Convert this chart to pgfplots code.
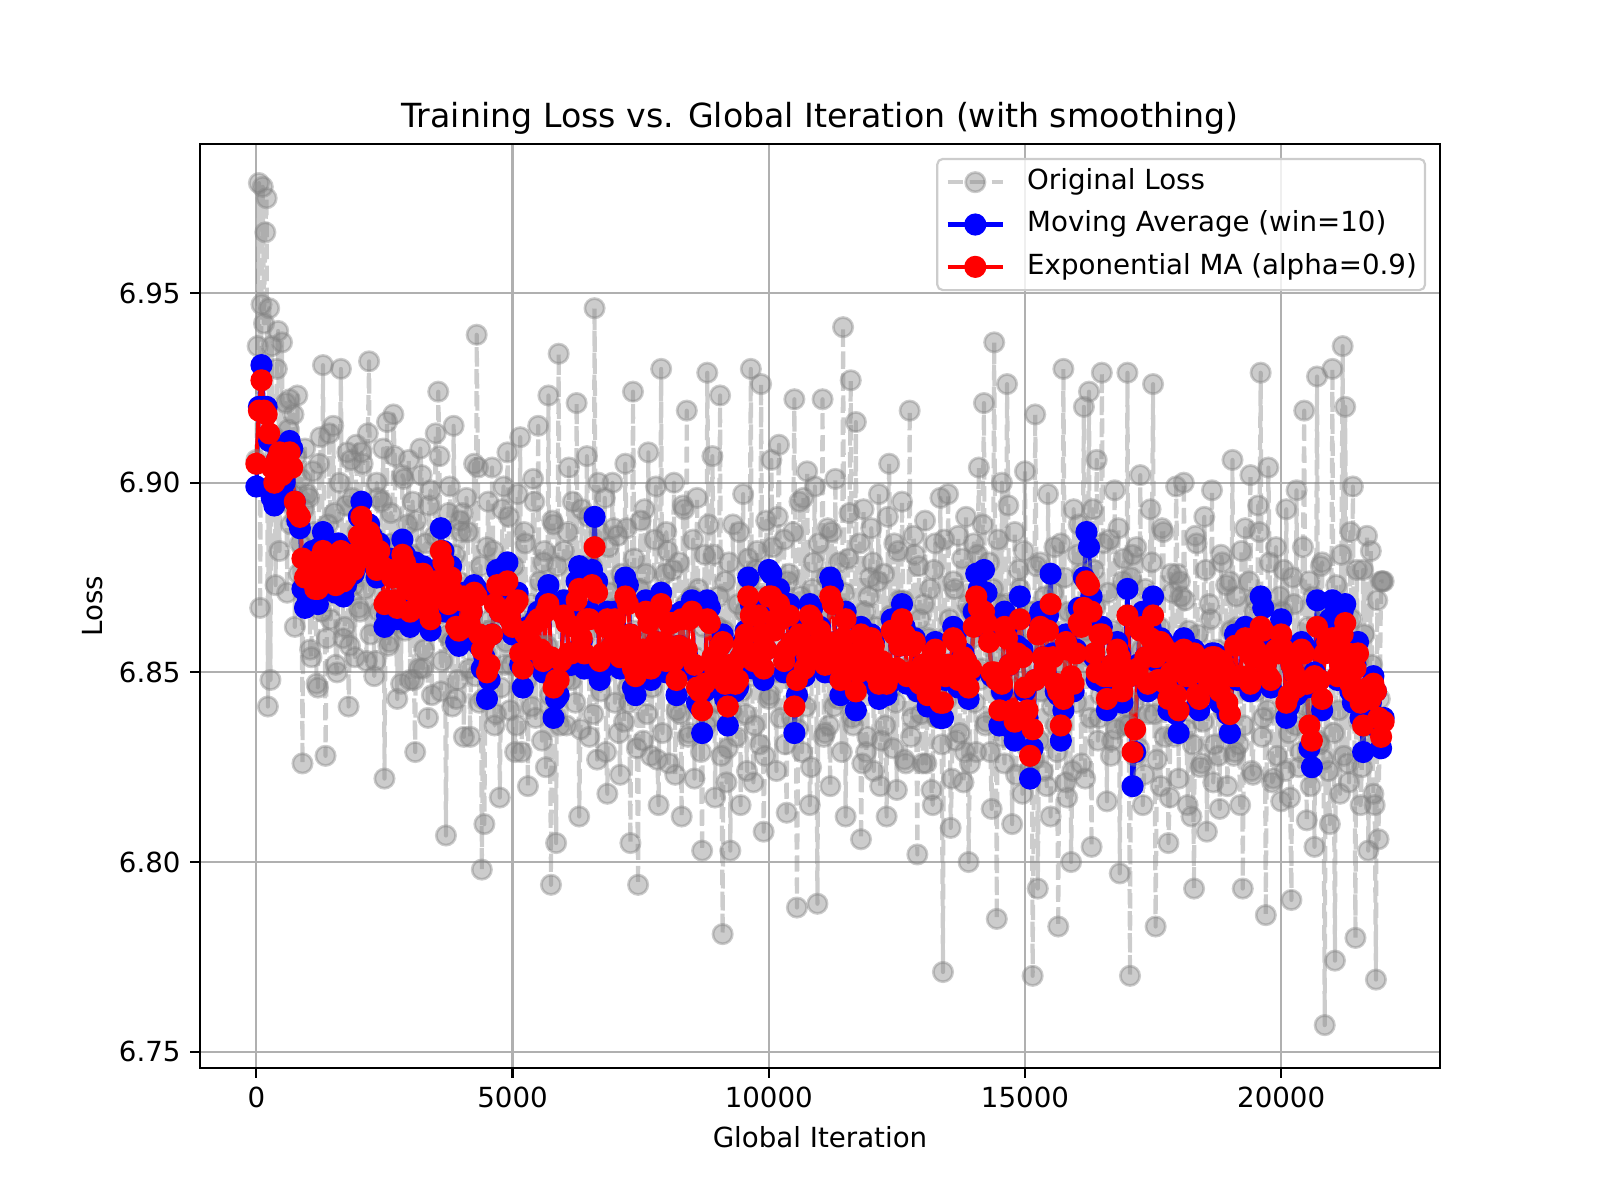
\documentclass[border=0pt]{standalone}
\usepackage{fontspec}
\setmainfont{DejaVu Sans}
\usepackage{pgfplots}
\pgfplotsset{compat=1.18}
\definecolor{mplgray}{RGB}{128,128,128}
\definecolor{gridgray}{RGB}{176,176,176}
\definecolor{legframe}{RGB}{204,204,204}
\pgfplotsset{legend image code/.code={\draw[mark repeat=2,mark phase=2,#1] plot coordinates {(0pt,0pt) (10pt,0pt) (20pt,0pt)};}}
\begin{document}
\begin{tikzpicture}
\path[use as bounding box] (0,0) rectangle (8in,6in);
\begin{axis}[
  at={(1in,0.66in)}, anchor=south west,
  scale only axis, width=6.2in, height=4.62in,
  xmin=-1100, xmax=23100, ymin=6.7457, ymax=6.9893,
  xtick={0,5000,10000,15000,20000},
  ytick={6.75,6.8,6.85,6.9,6.95},
  scaled x ticks=false, scaled y ticks=false,
  xticklabel style={/pgf/number format/1000 sep={}},
  yticklabel style={/pgf/number format/.cd, fixed, fixed zerofill, precision=2},
  /pgf/number format/assume math mode=true,
  tick label style={font=\fontsize{10}{12}\selectfont},
  tick align=outside, major tick length=3.5pt,
  xtick pos=lower, ytick pos=left,
  tick style={black, line width=0.8pt},
  axis line style={line width=0.8pt},
  grid=major, major grid style={gridgray, line width=0.8pt},
  title={Training Loss vs. Global Iteration (with smoothing)},
  title style={font=\fontsize{12}{14}\selectfont, at={(0.5,1)}, anchor=base, yshift=0pt},
  xlabel={Global Iteration}, ylabel={Loss},
  label style={font=\fontsize{10}{12}\selectfont},
  xlabel style={at={(axis description cs:0.5,-0.0857)}, anchor=base},
  ylabel style={at={(axis description cs:-0.0784,0.5)}, anchor=base},
  legend style={at={(1,1)}, anchor=north east, xshift=-5pt, yshift=-5pt,
    draw=legframe, fill=white, fill opacity=0.8, draw opacity=1, text opacity=1,
    rounded corners=2pt, line width=0.8pt, font=\fontsize{10}{12}\selectfont,
    inner xsep=3pt, inner ysep=3.4pt, row sep=5.3pt, column sep=8pt,
    nodes={text height=7.6pt, text depth=2.4pt, inner sep=0pt}},
  legend cell align=left,
]
\addplot[color=mplgray, opacity=0.4, line width=1.5pt, line join=round,
  dash pattern=on 5.55pt off 2.4pt, mark=*, mark size=3.5pt,
  mark options={solid, fill=mplgray, line width=1pt}]
  table[row sep=\\, header=false, x expr=\coordindex*25, y index=0] {
6.906\\6.936\\6.979\\6.867\\6.947\\6.978\\6.942\\6.966\\6.975\\6.841\\6.946\\6.848\\6.936\\6.899\\6.912\\6.873\\6.930\\6.940\\6.882\\6.909\\6.937\\6.895\\6.903\\6.921\\6.871\\6.914\\6.922\\6.889\\6.897\\6.918\\6.862\\6.907\\6.923\\6.876\\6.884\\6.901\\6.826\\6.893\\6.909\\6.868\\
6.897\\6.896\\6.856\\6.854\\6.903\\6.887\\6.871\\6.847\\6.846\\6.905\\6.912\\6.866\\6.931\\6.881\\6.828\\6.859\\6.889\\6.913\\6.864\\6.871\\6.915\\6.892\\6.852\\6.850\\6.880\\6.900\\6.930\\6.875\\6.859\\6.862\\6.894\\6.908\\6.841\\6.857\\6.906\\6.896\\6.873\\6.854\\6.910\\6.887\\
6.867\\6.866\\6.908\\6.905\\6.889\\6.872\\6.853\\6.913\\6.932\\6.860\\6.877\\6.886\\6.849\\6.853\\6.900\\6.896\\6.866\\6.878\\6.895\\6.909\\6.822\\6.869\\6.916\\6.857\\6.858\\6.892\\6.884\\6.918\\6.907\\6.863\\6.843\\6.884\\6.870\\6.847\\6.902\\6.901\\6.861\\6.875\\6.889\\6.906\\
6.848\\6.881\\6.895\\6.848\\6.829\\6.890\\6.877\\6.851\\6.909\\6.902\\6.851\\6.856\\6.884\\6.869\\6.838\\6.894\\6.898\\6.844\\6.866\\6.886\\6.913\\6.865\\6.924\\6.907\\6.845\\6.853\\6.880\\6.875\\6.807\\6.860\\6.892\\6.899\\6.858\\6.841\\6.915\\6.881\\6.843\\6.848\\6.874\\6.890\\
6.887\\6.892\\6.833\\6.861\\6.896\\6.887\\6.851\\6.833\\6.872\\6.870\\6.905\\6.849\\6.939\\6.904\\6.842\\6.878\\6.798\\6.843\\6.810\\6.855\\6.883\\6.895\\6.861\\6.864\\6.904\\6.882\\6.836\\6.839\\6.877\\6.872\\6.817\\6.846\\6.893\\6.899\\6.852\\6.858\\6.908\\6.891\\6.840\\6.852\\
6.871\\6.878\\6.829\\6.836\\6.897\\6.869\\6.912\\6.829\\6.846\\6.887\\6.884\\6.848\\6.820\\6.863\\6.868\\6.841\\6.901\\6.895\\6.838\\6.853\\6.915\\6.874\\6.857\\6.832\\6.879\\6.882\\6.825\\6.857\\6.923\\6.844\\6.794\\6.890\\6.889\\6.839\\6.805\\6.878\\6.934\\6.836\\6.851\\6.869\\
6.882\\6.848\\6.836\\6.887\\6.904\\6.854\\6.848\\6.895\\6.868\\6.842\\6.921\\6.868\\6.812\\6.835\\6.893\\6.878\\6.855\\6.860\\6.907\\6.891\\6.833\\6.851\\6.878\\6.839\\6.946\\6.874\\6.827\\6.900\\6.887\\6.845\\6.849\\6.866\\6.896\\6.829\\6.818\\6.883\\6.871\\6.857\\6.900\\6.888\\
6.842\\6.867\\6.886\\6.834\\6.823\\6.876\\6.874\\6.837\\6.905\\6.888\\6.846\\6.842\\6.805\\6.855\\6.924\\6.880\\6.861\\6.830\\6.794\\6.872\\6.890\\6.851\\6.832\\6.893\\6.876\\6.839\\6.908\\6.861\\6.828\\6.846\\6.867\\6.885\\6.899\\6.827\\6.815\\6.867\\6.930\\6.834\\6.853\\6.876\\
6.887\\6.882\\6.826\\6.851\\6.865\\6.877\\6.900\\6.823\\6.840\\6.860\\6.879\\6.839\\6.812\\6.894\\6.893\\6.868\\6.919\\6.833\\6.834\\6.845\\6.870\\6.885\\6.822\\6.854\\6.896\\6.872\\6.849\\6.829\\6.803\\6.862\\6.881\\6.836\\6.929\\6.889\\6.838\\6.848\\6.907\\6.881\\6.817\\6.842\\
6.862\\6.870\\6.923\\6.828\\6.781\\6.861\\6.874\\6.821\\6.830\\6.879\\6.803\\6.840\\6.889\\6.855\\6.845\\6.833\\6.868\\6.887\\6.815\\6.845\\6.897\\6.866\\6.839\\6.824\\6.880\\6.874\\6.930\\6.849\\6.821\\6.836\\6.877\\6.882\\6.854\\6.831\\6.926\\6.870\\6.808\\6.828\\6.890\\6.861\\
6.843\\6.844\\6.906\\6.883\\6.867\\6.850\\6.824\\6.891\\6.910\\6.838\\6.850\\6.864\\6.885\\6.831\\6.813\\6.874\\6.876\\6.856\\6.838\\6.887\\6.922\\6.847\\6.788\\6.835\\6.895\\6.870\\6.829\\6.896\\6.866\\6.841\\6.903\\6.862\\6.815\\6.825\\6.872\\6.879\\6.899\\6.853\\6.789\\6.884\\
6.861\\6.866\\6.922\\6.833\\6.834\\6.875\\6.888\\6.836\\6.820\\6.887\\6.874\\6.841\\6.901\\6.854\\6.843\\6.879\\6.867\\6.829\\6.941\\6.871\\6.812\\6.850\\6.880\\6.892\\6.927\\6.838\\6.836\\6.860\\6.916\\6.845\\6.851\\6.884\\6.806\\6.826\\6.893\\6.866\\6.829\\6.833\\6.870\\6.875\\
6.888\\6.879\\6.824\\6.848\\6.862\\6.874\\6.897\\6.820\\6.832\\6.857\\6.876\\6.836\\6.812\\6.891\\6.905\\6.865\\6.846\\6.830\\6.884\\6.842\\6.819\\6.882\\6.869\\6.851\\6.895\\6.869\\6.827\\6.826\\6.858\\6.859\\6.919\\6.833\\6.838\\6.886\\6.881\\6.845\\6.802\\6.878\\6.864\\6.839\\
6.826\\6.868\\6.890\\6.826\\6.843\\6.859\\6.872\\6.819\\6.815\\6.877\\6.884\\6.838\\6.838\\6.853\\6.896\\6.831\\6.771\\6.885\\6.859\\6.843\\6.897\\6.864\\6.809\\6.822\\6.874\\6.872\\6.832\\6.847\\6.886\\6.834\\6.846\\6.880\\6.821\\6.829\\6.891\\6.868\\6.800\\6.826\\6.866\\6.859\\
6.884\\6.842\\6.829\\6.881\\6.904\\6.848\\6.851\\6.889\\6.921\\6.836\\6.837\\6.862\\6.879\\6.829\\6.814\\6.872\\6.937\\6.854\\6.785\\6.885\\6.868\\6.845\\6.900\\6.833\\6.826\\6.868\\6.926\\6.894\\6.846\\6.839\\6.810\\6.860\\6.887\\6.823\\6.834\\6.877\\6.872\\6.851\\6.818\\6.882\\
6.903\\6.857\\6.830\\6.824\\6.866\\6.866\\6.770\\6.827\\6.918\\6.878\\6.793\\6.832\\6.879\\6.845\\6.824\\6.870\\6.858\\6.820\\6.897\\6.862\\6.812\\6.841\\6.871\\6.883\\6.836\\6.829\\6.783\\6.851\\6.884\\6.836\\6.930\\6.875\\6.821\\6.817\\6.866\\6.857\\6.800\\6.824\\6.893\\6.866\\
6.842\\6.881\\6.889\\6.850\\6.826\\6.876\\6.920\\6.822\\6.861\\6.859\\6.924\\6.838\\6.804\\6.893\\6.877\\6.867\\6.906\\6.832\\6.838\\6.844\\6.929\\6.884\\6.851\\6.853\\6.816\\6.871\\6.885\\6.828\\6.832\\6.861\\6.898\\6.835\\6.847\\6.888\\6.797\\6.847\\6.874\\6.880\\6.836\\6.841\\
6.929\\6.836\\6.770\\6.875\\6.881\\6.842\\6.828\\6.883\\6.864\\6.830\\6.902\\6.856\\6.815\\6.823\\6.872\\6.866\\6.839\\6.848\\6.893\\6.879\\6.926\\6.839\\6.783\\6.827\\6.858\\6.862\\6.820\\6.888\\6.887\\6.833\\6.845\\6.854\\6.805\\6.817\\6.876\\6.871\\6.833\\6.845\\6.899\\6.876\\
6.822\\6.874\\6.870\\6.843\\6.900\\6.869\\6.835\\6.815\\6.861\\6.852\\6.812\\6.831\\6.793\\6.886\\6.884\\6.860\\6.846\\6.825\\6.826\\6.837\\6.891\\6.877\\6.808\\6.846\\6.868\\6.864\\6.898\\6.821\\6.831\\6.854\\6.856\\6.828\\6.814\\6.881\\6.879\\6.840\\6.843\\6.873\\6.820\\6.834\\
6.874\\6.861\\6.906\\6.828\\6.829\\6.870\\6.862\\6.831\\6.815\\6.882\\6.793\\6.836\\6.888\\6.849\\6.845\\6.874\\6.902\\6.824\\6.823\\6.866\\6.869\\6.845\\6.894\\6.887\\6.929\\6.833\\6.838\\6.855\\6.786\\6.840\\6.904\\6.879\\6.851\\6.821\\6.822\\6.861\\6.883\\6.828\\6.860\\6.870\\
6.816\\6.866\\6.877\\6.824\\6.893\\6.857\\6.834\\6.817\\6.790\\6.875\\6.868\\6.836\\6.898\\6.851\\6.825\\6.829\\6.856\\6.883\\6.919\\6.841\\6.811\\6.862\\6.874\\6.820\\6.840\\6.870\\6.804\\6.845\\6.928\\6.832\\6.831\\6.878\\6.879\\6.827\\6.757\\6.866\\6.866\\6.824\\6.810\\6.857\\
6.930\\6.834\\6.774\\6.873\\6.862\\6.840\\6.818\\6.881\\6.936\\6.828\\6.920\\6.854\\6.826\\6.821\\6.887\\6.864\\6.899\\6.846\\6.780\\6.877\\6.853\\6.837\\6.815\\6.825\\6.877\\6.860\\6.836\\6.886\\6.803\\6.831\\6.882\\6.852\\6.818\\6.815\\6.769\\6.869\\6.806\\6.843\\6.874\\6.874\\
6.874\\
};
\addlegendentry{Original Loss}
\addplot[color=blue, opacity=1, line width=1.5pt, line join=round, mark=*, mark size=3.5pt,
  mark options={fill=blue, line width=1pt}]
  table[row sep=\\, header=false, x expr=\coordindex*50, y index=0] {
6.899\\6.920\\6.931\\6.920\\6.920\\6.911\\6.896\\6.894\\6.906\\6.908\\6.898\\6.900\\6.905\\6.911\\6.909\\6.895\\6.890\\6.888\\6.872\\6.867\\
6.870\\6.878\\6.882\\6.869\\6.868\\6.883\\6.887\\6.877\\6.878\\6.878\\6.872\\6.871\\6.884\\6.883\\6.870\\6.873\\6.880\\6.882\\6.876\\6.879\\
6.891\\6.895\\6.884\\6.883\\6.889\\6.886\\6.878\\6.875\\6.884\\6.878\\6.862\\6.865\\6.880\\6.876\\6.866\\6.864\\6.876\\6.885\\6.881\\6.870\\
6.862\\6.875\\6.879\\6.869\\6.868\\6.878\\6.874\\6.864\\6.861\\6.871\\6.877\\6.877\\6.888\\6.882\\6.866\\6.866\\6.878\\6.871\\6.858\\6.857\\
6.870\\6.871\\6.860\\6.861\\6.866\\6.873\\6.872\\6.857\\6.851\\6.854\\6.843\\6.848\\6.860\\6.871\\6.877\\6.866\\6.866\\6.878\\6.879\\6.864\\
6.860\\6.869\\6.871\\6.852\\6.846\\6.860\\6.862\\6.856\\6.854\\6.864\\6.866\\6.853\\6.850\\6.869\\6.873\\6.852\\6.838\\6.843\\6.844\\6.851\\
6.869\\6.866\\6.852\\6.852\\6.863\\6.874\\6.878\\6.858\\6.851\\6.865\\6.866\\6.877\\6.891\\6.874\\6.848\\6.851\\6.863\\6.866\\6.855\\6.857\\
6.866\\6.861\\6.851\\6.857\\6.875\\6.873\\6.860\\6.846\\6.844\\6.853\\6.855\\6.855\\6.869\\6.865\\6.848\\6.851\\6.858\\6.869\\6.871\\6.856\\
6.850\\6.865\\6.865\\6.851\\6.844\\6.857\\6.866\\6.855\\6.855\\6.867\\6.869\\6.850\\6.842\\6.841\\6.834\\6.845\\6.869\\6.867\\6.853\\6.848\\
6.846\\6.857\\6.860\\6.843\\6.836\\6.851\\6.852\\6.845\\6.846\\6.854\\6.858\\6.861\\6.875\\6.868\\6.851\\6.854\\6.868\\6.861\\6.848\\6.856\\
6.877\\6.876\\6.862\\6.865\\6.872\\6.865\\6.850\\6.854\\6.868\\6.858\\6.834\\6.844\\6.862\\6.858\\6.849\\6.853\\6.868\\6.867\\6.856\\6.853\\
6.862\\6.859\\6.850\\6.856\\6.875\\6.873\\6.858\\6.849\\6.844\\6.859\\6.866\\6.853\\6.850\\6.852\\6.840\\6.847\\6.862\\6.860\\6.853\\6.851\\
6.860\\6.858\\6.846\\6.843\\6.852\\6.851\\6.844\\6.847\\6.864\\6.863\\6.850\\6.857\\6.868\\6.862\\6.847\\6.848\\6.858\\6.859\\6.845\\6.845\\
6.852\\6.849\\6.841\\6.843\\6.856\\6.858\\6.850\\6.838\\6.838\\6.848\\6.852\\6.850\\6.862\\6.860\\6.846\\6.849\\6.855\\6.853\\6.843\\6.850\\
6.866\\6.876\\6.872\\6.871\\6.877\\6.871\\6.860\\6.849\\6.849\\6.848\\6.836\\6.845\\6.866\\6.862\\6.852\\6.835\\6.832\\6.857\\6.870\\6.856\\
6.845\\6.838\\6.822\\6.830\\6.848\\6.864\\6.866\\6.854\\6.850\\6.865\\6.876\\6.855\\6.845\\6.844\\6.832\\6.840\\6.860\\6.857\\6.848\\6.845\\
6.856\\6.867\\6.866\\6.875\\6.887\\6.883\\6.870\\6.854\\6.848\\6.862\\6.862\\6.847\\6.840\\6.848\\6.852\\6.849\\6.858\\6.855\\6.842\\6.851\\
6.872\\6.849\\6.820\\6.829\\6.852\\6.865\\6.866\\6.854\\6.845\\6.862\\6.870\\6.853\\6.846\\6.859\\6.858\\6.845\\6.840\\6.850\\6.856\\6.839\\
6.834\\6.852\\6.859\\6.848\\6.848\\6.855\\6.856\\6.841\\6.840\\6.852\\6.852\\6.847\\6.846\\6.855\\6.855\\6.844\\6.842\\6.854\\6.851\\6.839\\
6.834\\6.849\\6.860\\6.848\\6.848\\6.860\\6.862\\6.848\\6.845\\6.855\\6.858\\6.857\\6.870\\6.867\\6.852\\6.847\\6.846\\6.856\\6.858\\6.856\\
6.864\\6.858\\6.838\\6.841\\6.852\\6.850\\6.844\\6.845\\6.858\\6.857\\6.846\\6.830\\6.825\\6.850\\6.869\\6.848\\6.840\\6.857\\6.862\\6.864\\
6.869\\6.863\\6.848\\6.852\\6.866\\6.868\\6.856\\6.845\\6.842\\6.852\\6.858\\6.838\\6.829\\6.843\\6.846\\6.842\\6.849\\6.845\\6.835\\6.830\\
6.838\\
};
\addlegendentry{Moving Average (win=10)}
\addplot[color=red, opacity=1, line width=1.5pt, line join=round, mark=*, mark size=3.5pt,
  mark options={fill=red, line width=1pt}]
  table[row sep=\\, header=false, x expr=\coordindex*50, y index=0] {
6.905\\6.919\\6.927\\6.919\\6.918\\6.913\\6.904\\6.900\\6.906\\6.908\\6.902\\6.903\\6.905\\6.908\\6.904\\6.895\\6.892\\6.891\\6.880\\6.875\\
6.876\\6.879\\6.879\\6.872\\6.872\\6.880\\6.882\\6.876\\6.878\\6.878\\6.874\\6.873\\6.881\\6.882\\6.874\\6.875\\6.878\\6.881\\6.877\\6.879\\
6.886\\6.891\\6.885\\6.883\\6.887\\6.885\\6.880\\6.877\\6.882\\6.878\\6.868\\6.869\\6.877\\6.875\\6.869\\6.867\\6.875\\6.881\\6.879\\6.872\\
6.866\\6.874\\6.876\\6.870\\6.869\\6.876\\6.873\\6.866\\6.864\\6.870\\6.874\\6.874\\6.882\\6.879\\6.869\\6.868\\6.875\\6.871\\6.862\\6.861\\
6.869\\6.870\\6.862\\6.863\\6.866\\6.871\\6.870\\6.860\\6.856\\6.858\\6.850\\6.852\\6.860\\6.868\\6.873\\6.866\\6.866\\6.873\\6.874\\6.864\\
6.862\\6.868\\6.869\\6.855\\6.851\\6.860\\6.861\\6.858\\6.856\\6.863\\6.864\\6.856\\6.853\\6.866\\6.868\\6.854\\6.846\\6.848\\6.848\\6.853\\
6.865\\6.863\\6.855\\6.855\\6.862\\6.869\\6.872\\6.859\\6.855\\6.864\\6.864\\6.873\\6.883\\6.871\\6.853\\6.855\\6.862\\6.864\\6.856\\6.857\\
6.864\\6.860\\6.854\\6.858\\6.870\\6.868\\6.860\\6.851\\6.849\\6.855\\6.856\\6.856\\6.866\\6.863\\6.851\\6.854\\6.858\\6.866\\6.868\\6.858\\
6.853\\6.863\\6.863\\6.853\\6.848\\6.857\\6.864\\6.856\\6.856\\6.864\\6.866\\6.852\\6.846\\6.845\\6.840\\6.847\\6.864\\6.863\\6.854\\6.851\\
6.849\\6.857\\6.858\\6.847\\6.841\\6.852\\6.852\\6.847\\6.848\\6.854\\6.857\\6.860\\6.870\\6.865\\6.853\\6.855\\6.865\\6.860\\6.851\\6.856\\
6.870\\6.870\\6.861\\6.864\\6.868\\6.864\\6.853\\6.856\\6.865\\6.858\\6.841\\6.848\\6.860\\6.857\\6.851\\6.854\\6.865\\6.864\\6.857\\6.855\\
6.861\\6.859\\6.852\\6.856\\6.870\\6.868\\6.858\\6.852\\6.848\\6.859\\6.864\\6.855\\6.852\\6.854\\6.845\\6.850\\6.860\\6.858\\6.854\\6.853\\
6.859\\6.857\\6.849\\6.847\\6.853\\6.852\\6.847\\6.849\\6.861\\6.860\\6.851\\6.857\\6.864\\6.860\\6.849\\6.850\\6.857\\6.858\\6.848\\6.847\\
6.852\\6.849\\6.844\\6.846\\6.855\\6.856\\6.850\\6.842\\6.842\\6.849\\6.852\\6.851\\6.859\\6.858\\6.848\\6.850\\6.854\\6.853\\6.846\\6.851\\
6.862\\6.870\\6.867\\6.864\\6.866\\6.863\\6.858\\6.850\\6.850\\6.848\\6.840\\6.847\\6.862\\6.859\\6.852\\6.840\\6.837\\6.855\\6.864\\6.854\\
6.846\\6.840\\6.828\\6.835\\6.848\\6.860\\6.862\\6.854\\6.851\\6.861\\6.868\\6.854\\6.847\\6.845\\6.836\\6.843\\6.858\\6.856\\6.849\\6.847\\
6.855\\6.863\\6.862\\6.867\\6.874\\6.873\\6.866\\6.855\\6.850\\6.860\\6.860\\6.849\\6.843\\6.849\\6.852\\6.850\\6.856\\6.854\\6.845\\6.851\\
6.865\\6.849\\6.829\\6.835\\6.851\\6.861\\6.862\\6.854\\6.847\\6.859\\6.865\\6.854\\6.848\\6.858\\6.857\\6.847\\6.843\\6.850\\6.855\\6.844\\
6.840\\6.851\\6.856\\6.849\\6.849\\6.854\\6.855\\6.844\\6.843\\6.852\\6.852\\6.849\\6.847\\6.854\\6.854\\6.847\\6.845\\6.853\\6.851\\6.842\\
6.839\\6.849\\6.857\\6.849\\6.849\\6.857\\6.859\\6.849\\6.847\\6.854\\6.856\\6.854\\6.862\\6.861\\6.852\\6.849\\6.848\\6.855\\6.856\\6.855\\
6.860\\6.856\\6.842\\6.844\\6.852\\6.850\\6.846\\6.847\\6.856\\6.855\\6.847\\6.836\\6.832\\6.849\\6.862\\6.848\\6.843\\6.855\\6.858\\6.858\\
6.859\\6.857\\6.849\\6.852\\6.860\\6.863\\6.855\\6.847\\6.845\\6.851\\6.855\\6.842\\6.836\\6.844\\6.846\\6.843\\6.847\\6.845\\6.838\\6.833\\
6.837\\
};
\addlegendentry{Exponential MA (alpha=0.9)}
\end{axis}
\end{tikzpicture}
\end{document}
